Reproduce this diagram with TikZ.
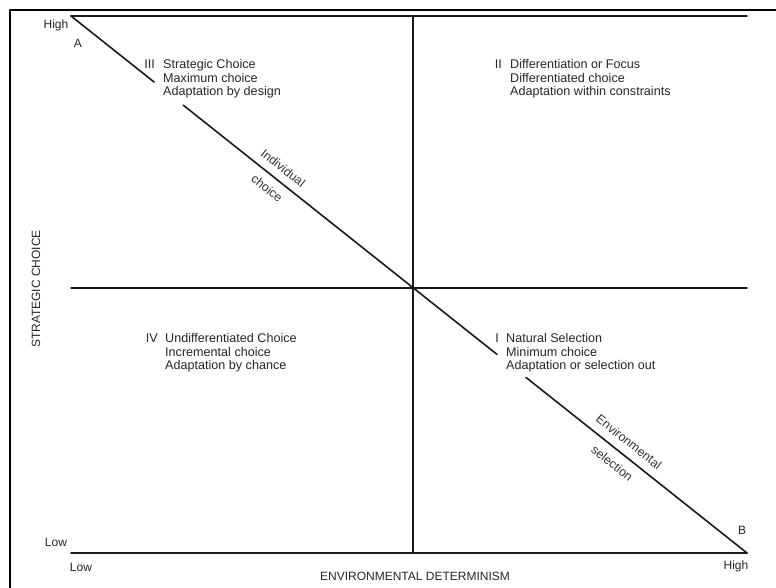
\documentclass[tikz,border=0pt]{standalone}
\usepackage{fontspec}
\setmainfont{Liberation Sans}
\usetikzlibrary{calc}

\begin{document}
\begin{tikzpicture}[x=1pt, y=-1pt, line join=round, line cap=round,
    axisline/.style={line width=1.6pt, black!90},
    quad/.style={font=\fontsize{12.6}{13.6}\selectfont, align=left, inner sep=0pt, text=black!85},
    tick/.style={font=\fontsize{12}{14}\selectfont, inner sep=0pt, text=black!85},
    diag/.style={font=\fontsize{12.4}{14}\selectfont, inner sep=0pt, text=black!80, rotate=-38.46}]
    \useasboundingbox (0,0) rectangle (776,588);

    % Rahmen
    \coordinate (F0) at (10,588);
    \coordinate (F1) at (776,10);
    \draw[line width=2pt, line cap=butt] (F0) |- (F1);

    % Eckpunkte
    \coordinate (A) at (71,16);
    \coordinate (B) at (747,553);
    \coordinate (TR) at (747,16);
    \coordinate (BL) at (71,553);
    \coordinate (ML) at (71,288);
    \coordinate (MR) at (747,288);
    \coordinate (MT) at (413,16);
    \coordinate (MB) at (413,553);

    % Achsen und Quadranten
    \draw[axisline] (A) -- (TR);
    \draw[axisline] (BL) -- (B);
    \draw[axisline] (ML) -- (MR);
    \draw[axisline] (MT) -- (MB);

    % Diagonale A--B, unterbrochen fuer die Texte
    \coordinate (G1) at ($(A)!0.123!(B)$);
    \coordinate (G2) at ($(A)!0.166!(B)$);
    \coordinate (G3) at ($(A)!0.630!(B)$);
    \coordinate (G4) at ($(A)!0.673!(B)$);
    \draw[axisline] (A) -- (G1);
    \draw[axisline] (G2) -- (G3);
    \draw[axisline] (G4) -- (B);

    % Beschriftung an der Diagonale
    \coordinate (P1) at ($(A)!0.302!(B)$);
    \coordinate (P2) at ($(A)!0.813!(B)$);
    \node[diag] (ind) at ($(P1)!13pt!90:(B)$) {Individual};
    \node[diag] (ich) at ($(P1)!13pt!-90:(B)$) {choice};
    \node[diag] (env) at ($(P2)!13.5pt!90:(B)$) {Environmental};
    \node[diag] (sel) at ($(P2)!13.5pt!-90:(B)$) {selection};

    % Quadranten
    \node[quad, anchor=west] (q3) at (163,79) {Strategic Choice\\Maximum choice\\Adaptation by design};
    \node[quad, anchor=north east] (n3) at ([xshift=-8pt]q3.north west) {III};
    \node[quad, anchor=west] (q2) at (510,79) {Differentiation or Focus\\Differentiated choice\\Adaptation within constraints};
    \node[quad, anchor=north east] (n2) at ([xshift=-8pt]q2.north west) {II};
    \node[quad, anchor=west] (q4) at (165,353) {Undifferentiated Choice\\Incremental choice\\Adaptation by chance};
    \node[quad, anchor=north east] (n4) at ([xshift=-7pt]q4.north west) {IV};
    \node[quad, anchor=west] (q1) at (506,353) {Natural Selection\\Minimum choice\\Adaptation or selection out};
    \node[quad, anchor=north east] (n1) at ([xshift=-7pt]q1.north west) {I};

    % Achsenbeschriftung
    \node[tick] (hiy) at (56,25) {High};
    \node[tick] (pa) at (78,43) {A};
    \node[tick] (loy) at (56,542) {Low};
    \node[tick] (lox) at (81,567) {Low};
    \node[tick] (hix) at (736,566) {High};
    \node[tick] (pb) at (742,530) {B};
    \node[tick] (xlab) at (415,576) {ENVIRONMENTAL DETERMINISM};
    \node[tick, rotate=90] (ylab) at (36,289) {STRATEGIC CHOICE};
\end{tikzpicture}
\end{document}
